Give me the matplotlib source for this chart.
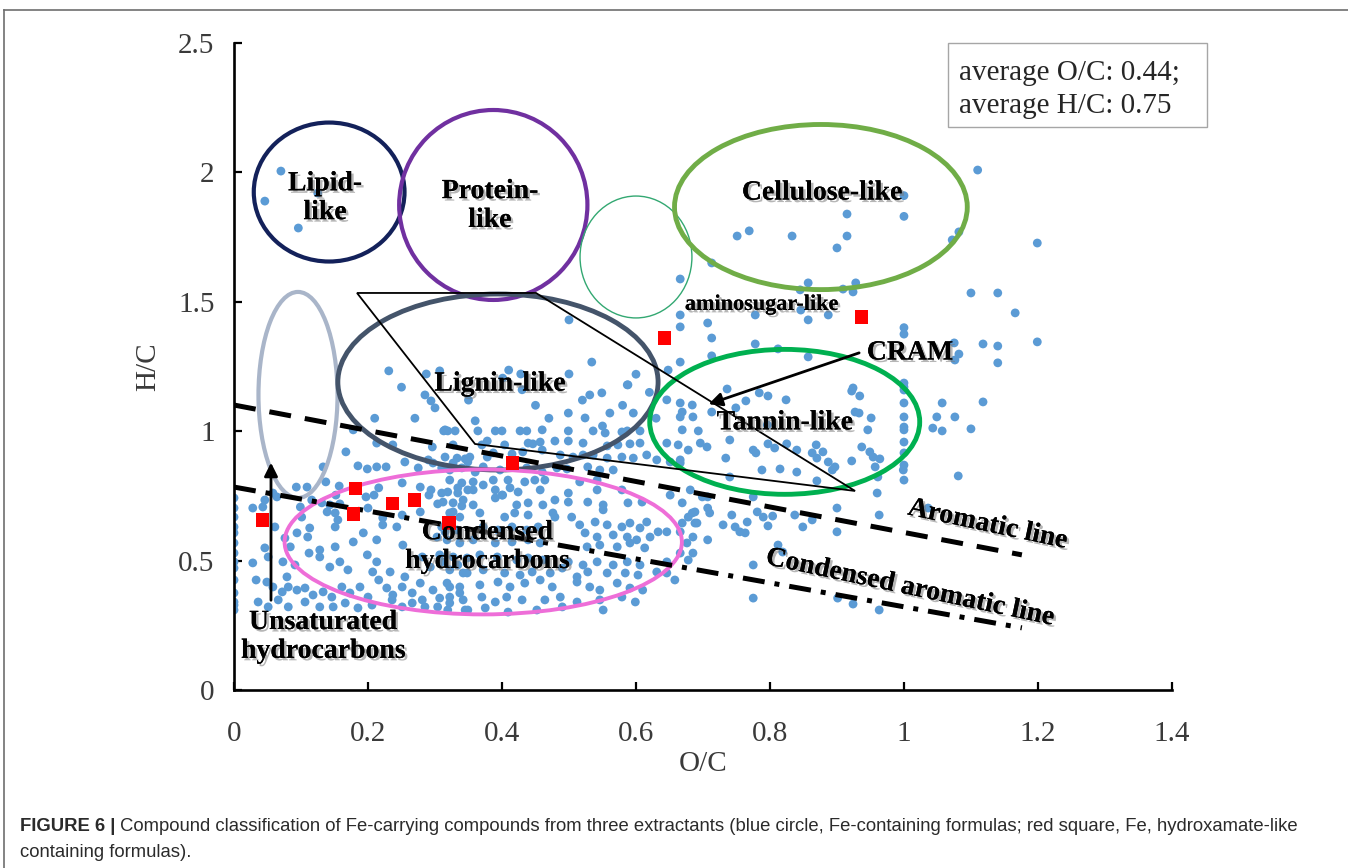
import matplotlib
matplotlib.use("Agg")
import matplotlib.pyplot as plt
import matplotlib.patheffects as pe
from matplotlib.patches import Ellipse, Polygon, Rectangle
from matplotlib.lines import Line2D

# ---------------- data: Fe-containing formulas (O/C, H/C) ----------------
lipid_pts = [(0.070, 2.005), (0.046, 1.889), (0.125, 1.920), (0.096, 1.785)]

upper_pts = [
    (0.231, 1.233), (0.287, 1.221), (0.307, 1.233), (0.410, 1.236), (0.428, 1.221), (0.401, 1.205),
    (0.713, 1.650), (0.666, 1.588), (0.666, 1.449), (0.666, 1.403), (0.707, 1.418), (0.713, 1.360),
    (0.713, 1.291), (0.666, 1.267), (0.648, 1.236), (0.500, 1.430), (0.534, 1.267), (0.500, 1.221),
    (0.587, 1.179),
    (0.915, 1.839), (0.751, 1.754), (0.769, 1.774), (0.833, 1.754), (0.915, 1.754), (0.900, 1.708),
    (0.857, 1.573), (0.928, 1.573), (0.909, 1.549), (0.845, 1.546), (0.924, 1.538), (0.778, 1.449),
    (0.846, 1.468), (0.857, 1.430), (0.887, 1.449), (0.778, 1.337), (0.812, 1.318), (0.857, 1.287),
    (0.924, 1.167),
]

right_pts = [
    (1.110, 2.009), (1.000, 1.910), (1.000, 1.830), (1.082, 1.770), (1.072, 1.739), (1.199, 1.727),
    (1.100, 1.534), (1.140, 1.534), (1.166, 1.457), (1.000, 1.400), (1.000, 1.375), (1.075, 1.341),
    (1.118, 1.337), (1.140, 1.329), (1.199, 1.345), (1.082, 1.298), (1.076, 1.275), (1.140, 1.264),
    (1.000, 1.186), (1.000, 1.171), (1.057, 1.109), (1.118, 1.113), (1.000, 1.055), (1.049, 1.055),
    (1.076, 1.055), (1.000, 1.016), (1.000, 1.005), (1.043, 1.012), (1.057, 1.001), (1.100, 1.009),
    (1.000, 0.958), (1.000, 0.916), (1.000, 0.869), (1.081, 0.827), (1.036, 0.703),
]

tannin_pts = [
    (0.736, 1.163), (0.784, 1.148), (0.797, 1.136), (0.824, 1.121), (0.922, 1.155), (0.934, 1.136),
    (1.000, 1.159), (0.684, 1.101), (0.669, 1.074), (0.713, 1.074), (0.749, 1.090), (0.764, 1.117),
    (0.927, 1.074), (0.933, 1.070), (0.951, 1.051), (1.000, 1.109), (0.685, 1.055), (0.669, 1.005),
    (0.693, 1.001), (0.740, 0.966), (0.796, 1.024), (0.797, 0.951), (0.825, 0.951), (0.840, 0.927),
    (0.869, 0.947), (0.879, 0.920), (0.946, 1.005), (0.696, 0.954), (0.706, 0.939), (0.734, 0.896),
    (0.775, 0.927), (0.779, 0.916), (0.807, 0.935), (0.863, 0.916), (0.870, 0.896), (0.887, 0.881),
    (0.897, 0.862), (0.893, 0.850), (0.922, 0.885), (0.937, 0.939), (0.949, 0.920), (0.954, 0.900),
    (0.964, 0.893), (0.957, 0.862), (0.961, 0.823), (0.999, 0.850), (1.000, 0.811), (0.666, 0.877),
    (0.788, 0.850), (0.815, 0.854), (0.840, 0.842), (0.870, 0.808), (0.740, 0.823),
    (0.646, 1.121), (0.666, 1.109), (0.666, 1.055), (0.646, 0.954), (0.663, 0.947), (0.678, 0.927),
]

aromatic_pts = [
    (0.681, 0.773), (0.669, 0.723), (0.699, 0.746), (0.707, 0.703), (0.707, 0.746), (0.688, 0.688),
    (0.710, 0.684), (0.678, 0.668), (0.743, 0.676), (0.730, 0.638), (0.748, 0.630), (0.755, 0.611),
    (0.763, 0.607), (0.766, 0.649), (0.775, 0.746), (0.781, 0.688), (0.797, 0.634), (0.790, 0.668),
    (0.804, 0.672), (0.837, 0.676), (0.849, 0.630), (0.863, 0.657), (0.900, 0.703), (0.900, 0.611),
    (0.963, 0.676), (0.960, 0.761), (0.669, 0.645), (0.688, 0.645), (0.707, 0.580), (0.685, 0.591),
    (0.685, 0.529), (0.678, 0.502), (0.812, 0.560), (0.819, 0.533), (0.775, 0.483), (0.775, 0.355),
    (0.901, 0.355), (0.924, 0.332), (0.963, 0.309),
    (0.684, 0.684), (0.691, 0.645), (0.666, 0.611), (0.676, 0.568), (0.666, 0.529), (0.646, 0.495),
    (0.646, 0.452), (0.658, 0.425),
]

lignin_pts = [
    (0.285, 1.140), (0.294, 1.117), (0.178, 1.005), (0.167, 0.920), (0.213, 0.954), (0.237, 0.947),
    (0.296, 0.939), (0.313, 1.001), (0.319, 1.001), (0.327, 0.947),
    (0.531, 1.140), (0.549, 1.148), (0.588, 1.179), (0.499, 1.070), (0.524, 1.051), (0.561, 1.070),
    (0.596, 1.070), (0.315, 1.005), (0.330, 1.001), (0.364, 1.001), (0.390, 1.001), (0.400, 1.001),
    (0.427, 1.001), (0.437, 1.001), (0.460, 1.005), (0.499, 1.001), (0.536, 1.001), (0.554, 0.993),
    (0.579, 0.997), (0.587, 1.001), (0.606, 1.001), (0.378, 0.962), (0.370, 0.947), (0.404, 0.947),
    (0.439, 0.954), (0.446, 0.951), (0.457, 0.958), (0.479, 0.962), (0.499, 0.962), (0.521, 0.954),
    (0.557, 0.943), (0.573, 0.947), (0.591, 0.951), (0.606, 0.954),
    (0.25, 1.17), (0.30, 1.09), (0.35, 1.12), (0.27, 1.05), (0.45, 1.10), (0.47, 1.05), (0.52, 1.12),
    (0.55, 1.02), (0.58, 1.10), (0.62, 1.15), (0.63, 1.05), (0.60, 1.22), (0.43, 1.16), (0.36, 1.04),
    (0.21, 1.05),
]

band_pts = [
    (0.133, 0.862), (0.185, 0.866), (0.199, 0.854), (0.213, 0.862), (0.227, 0.862), (0.255, 0.881),
    (0.275, 0.858), (0.290, 0.889), (0.297, 0.877), (0.312, 0.862), (0.327, 0.877), (0.349, 0.881),
    (0.093, 0.784), (0.109, 0.784), (0.137, 0.804), (0.157, 0.788), (0.152, 0.753), (0.197, 0.746),
    (0.209, 0.753), (0.216, 0.781), (0.251, 0.800), (0.278, 0.784), (0.294, 0.773), (0.291, 0.753),
    (0.310, 0.761), (0.334, 0.781), (0.349, 0.773),
    (0.315, 0.900), (0.333, 0.896), (0.345, 0.893), (0.352, 0.900), (0.378, 0.900), (0.387, 0.916),
    (0.415, 0.912), (0.431, 0.920), (0.460, 0.927), (0.487, 0.908), (0.506, 0.900), (0.521, 0.908),
    (0.536, 0.908), (0.557, 0.896), (0.579, 0.900), (0.596, 0.896), (0.616, 0.908), (0.631, 0.889),
    (0.651, 0.881), (0.666, 0.889), (0.310, 0.858), (0.322, 0.850), (0.340, 0.858), (0.360, 0.842),
    (0.372, 0.862), (0.397, 0.850), (0.437, 0.858), (0.460, 0.842), (0.482, 0.858), (0.497, 0.854),
    (0.528, 0.862), (0.546, 0.850), (0.566, 0.850), (0.322, 0.811), (0.340, 0.800), (0.357, 0.804),
    (0.372, 0.792), (0.387, 0.811), (0.409, 0.811), (0.434, 0.804), (0.449, 0.811), (0.464, 0.811),
    (0.516, 0.804), (0.542, 0.811), (0.319, 0.765), (0.334, 0.761), (0.357, 0.773), (0.390, 0.773),
    (0.401, 0.753), (0.412, 0.781), (0.424, 0.765), (0.457, 0.773), (0.499, 0.761), (0.542, 0.773),
    (0.579, 0.773), (0.651, 0.753),
]

edge_pts = [
    (0.000, 0.742), (0.000, 0.703), (0.000, 0.668), (0.000, 0.630), (0.000, 0.607), (0.000, 0.568),
    (0.000, 0.529), (0.000, 0.495), (0.000, 0.471), (0.000, 0.425), (0.000, 0.375), (0.000, 0.340),
    (0.000, 0.328), (0.000, 0.309),
    (0.028, 0.703), (0.043, 0.707), (0.064, 0.746), (0.099, 0.707), (0.116, 0.734), (0.131, 0.723),
    (0.139, 0.688), (0.151, 0.684), (0.158, 0.719), (0.200, 0.703), (0.222, 0.665), (0.251, 0.676),
    (0.278, 0.688), (0.304, 0.719), (0.327, 0.688), (0.340, 0.711),
    (0.058, 0.761), (0.046, 0.734), (0.143, 0.715), (0.155, 0.657), (0.101, 0.668), (0.113, 0.626),
]

cond_left_pts = [
    (0.061, 0.630), (0.076, 0.587), (0.084, 0.553), (0.094, 0.607), (0.110, 0.591), (0.128, 0.541),
    (0.151, 0.630), (0.151, 0.553), (0.178, 0.572), (0.193, 0.607), (0.213, 0.580), (0.222, 0.638),
    (0.243, 0.630), (0.252, 0.560), (0.303, 0.591), (0.315, 0.611),
    (0.028, 0.491), (0.046, 0.549), (0.051, 0.514), (0.073, 0.495), (0.079, 0.437), (0.091, 0.483),
    (0.112, 0.529), (0.128, 0.514), (0.143, 0.475), (0.158, 0.495), (0.170, 0.464), (0.199, 0.522),
    (0.207, 0.456), (0.213, 0.495), (0.233, 0.456), (0.255, 0.437), (0.281, 0.514), (0.293, 0.475),
    (0.310, 0.495), (0.334, 0.483), (0.342, 0.452),
    (0.033, 0.425), (0.049, 0.417), (0.058, 0.398), (0.072, 0.379), (0.081, 0.398), (0.094, 0.386),
    (0.106, 0.394), (0.118, 0.367), (0.133, 0.379), (0.146, 0.359), (0.161, 0.398), (0.173, 0.375),
    (0.188, 0.398), (0.200, 0.359), (0.216, 0.425), (0.228, 0.394), (0.237, 0.367), (0.251, 0.398),
    (0.266, 0.375), (0.278, 0.413), (0.281, 0.348), (0.297, 0.386), (0.307, 0.355), (0.322, 0.398),
    (0.337, 0.375),
    (0.036, 0.340), (0.051, 0.321), (0.066, 0.348), (0.081, 0.321), (0.106, 0.340), (0.128, 0.321),
    (0.148, 0.321), (0.166, 0.336), (0.185, 0.317), (0.206, 0.328), (0.236, 0.348), (0.251, 0.321),
    (0.266, 0.336), (0.285, 0.321), (0.304, 0.321), (0.322, 0.336), (0.345, 0.309),
]

cond_right_pts = [
    (0.312, 0.726), (0.327, 0.723), (0.342, 0.734), (0.357, 0.715), (0.390, 0.742), (0.400, 0.753),
    (0.422, 0.715), (0.439, 0.723), (0.461, 0.715), (0.479, 0.734), (0.499, 0.726), (0.528, 0.726),
    (0.551, 0.715), (0.588, 0.723), (0.609, 0.726),
    (0.322, 0.684), (0.337, 0.668), (0.367, 0.684), (0.404, 0.668), (0.419, 0.684), (0.439, 0.676),
    (0.476, 0.684), (0.479, 0.668), (0.504, 0.668), (0.516, 0.638), (0.539, 0.649), (0.551, 0.696),
    (0.557, 0.638), (0.579, 0.630), (0.591, 0.645), (0.606, 0.626), (0.616, 0.649), (0.633, 0.611),
    (0.646, 0.611),
    (0.310, 0.630), (0.333, 0.618), (0.372, 0.630), (0.394, 0.618), (0.415, 0.630), (0.437, 0.618),
    (0.454, 0.630), (0.524, 0.607), (0.542, 0.591), (0.566, 0.599), (0.587, 0.591), (0.601, 0.580),
    (0.621, 0.591),
    (0.318, 0.580), (0.337, 0.568), (0.357, 0.580), (0.390, 0.568), (0.415, 0.572), (0.439, 0.580),
    (0.457, 0.568), (0.527, 0.553), (0.546, 0.560), (0.572, 0.553), (0.591, 0.568), (0.613, 0.549),
    (0.307, 0.522), (0.327, 0.514), (0.348, 0.510), (0.367, 0.522), (0.393, 0.514), (0.422, 0.502),
    (0.439, 0.510), (0.461, 0.502), (0.499, 0.495), (0.521, 0.483), (0.542, 0.495), (0.566, 0.483),
    (0.587, 0.495), (0.606, 0.483),
    (0.322, 0.464), (0.348, 0.452), (0.372, 0.464), (0.404, 0.452), (0.427, 0.444), (0.445, 0.456),
    (0.472, 0.452), (0.490, 0.471), (0.512, 0.437), (0.528, 0.456), (0.557, 0.452), (0.584, 0.452),
    (0.603, 0.444), (0.631, 0.456),
    (0.318, 0.413), (0.337, 0.398), (0.367, 0.406), (0.394, 0.417), (0.412, 0.398), (0.434, 0.413),
    (0.457, 0.425), (0.475, 0.398), (0.512, 0.417), (0.531, 0.398), (0.546, 0.386), (0.572, 0.413),
    (0.591, 0.394), (0.610, 0.386),
    (0.322, 0.359), (0.342, 0.348), (0.370, 0.359), (0.390, 0.340), (0.407, 0.359), (0.430, 0.348),
    (0.464, 0.348), (0.487, 0.359), (0.512, 0.340), (0.546, 0.348), (0.579, 0.359), (0.599, 0.340),
    (0.319, 0.309), (0.349, 0.309), (0.375, 0.317), (0.409, 0.301), (0.452, 0.309), (0.490, 0.321),
    (0.551, 0.309),
]

# ---------------- data: Fe, hydroxamate-like containing formulas ----------------
hx_oc = [0.042, 0.181, 0.178, 0.237, 0.269, 0.321, 0.416, 0.643, 0.936]
hx_hc = [0.657, 0.777, 0.680, 0.719, 0.734, 0.645, 0.877, 1.360, 1.441]

avg_oc = 0.44
avg_hc = 0.75

x_ticks = [0, 0.2, 0.4, 0.6, 0.8, 1.0, 1.2, 1.4]
x_tick_labels = ["0", "0.2", "0.4", "0.6", "0.8", "1", "1.2", "1.4"]
y_ticks = [0, 0.5, 1.0, 1.5, 2.0, 2.5]
y_tick_labels = ["0", "0.5", "1", "1.5", "2", "2.5"]

fe_pts = (lipid_pts + upper_pts + right_pts + tannin_pts + aromatic_pts + lignin_pts
          + band_pts + edge_pts + cond_left_pts + cond_right_pts)
fe_oc = [p[0] for p in fe_pts]
fe_hc = [p[1] for p in fe_pts]

# ---------------- figure ----------------
SERIF = ["Liberation Serif", "DejaVu Serif"]
fig = plt.figure(figsize=(13.48, 8.68), dpi=100)
ax = fig.add_axes([0.1736, 0.2051, 0.6958, 0.7454])
ax.set_xlim(0, 1.4)
ax.set_ylim(0, 2.5)

for side in ("top", "right"):
    ax.spines[side].set_visible(False)
for side in ("left", "bottom"):
    ax.spines[side].set_linewidth(1.9)
    ax.spines[side].set_color("black")

ax.set_xticks(x_ticks)
ax.set_xticklabels(x_tick_labels)
ax.set_yticks(y_ticks)
ax.set_yticklabels(y_tick_labels)
ax.tick_params(direction="in", length=6, width=1.6, labelsize=21, labelcolor="#3a3a3a")
ax.tick_params(axis="x", pad=22)
ax.tick_params(axis="y", pad=14)
for lab in ax.get_xticklabels() + ax.get_yticklabels():
    lab.set_family(SERIF)
ax.set_xlabel("O/C", fontsize=21, family=SERIF, color="#3a3a3a", labelpad=3)
ax.set_ylabel("H/C", fontsize=21, family=SERIF, color="#3a3a3a", labelpad=12)

# data points
ax.scatter(fe_oc, fe_hc, s=40, c="#5b9bd5", edgecolors="none", zorder=2)

# compound class regions
regions = [
    # (center, width, height, colour, linewidth)
    ((0.142, 1.924), 0.225, 0.537, "#13215a", 3.0),
    ((0.387, 1.874), 0.281, 0.734, "#7030a0", 3.0),
    ((0.600, 1.673), 0.167, 0.471, "#33a872", 1.0),
    ((0.876, 1.866), 0.437, 0.638, "#70ad47", 3.5),
    ((0.0955, 1.140), 0.118, 0.796, "#a9b5c9", 3.0),
    ((0.394, 1.190), 0.478, 0.680, "#44546a", 3.5),
    ((0.822, 1.036), 0.403, 0.560, "#00b050", 3.5),
    ((0.372, 0.572), 0.593, 0.560, "#ee6ed8", 2.8),
]
for (c, w, h, col, lw) in regions:
    ax.add_patch(Ellipse(c, w, h, fill=False, edgecolor=col, linewidth=lw, zorder=3))

# CRAM polygon
cram = Polygon([(0.1836, 1.534), (0.4507, 1.534), (0.927, 0.769), (0.3597, 0.9505)],
               closed=True, fill=False, edgecolor="black", linewidth=1.3, zorder=3)
ax.add_patch(cram)

# aromaticity lines
ax.plot([0, 1.176], [1.101, 0.522], color="black", linewidth=3.6,
        linestyle=(0, (4.4, 2.8)), zorder=3, solid_capstyle="butt")
ax.plot([0, 1.176], [0.784, 0.240], color="black", linewidth=3.6,
        linestyle=(0, (4.4, 2.0, 1.0, 2.0)), zorder=3)

# Fe, hydroxamate-like formulas
ax.scatter(hx_oc, hx_hc, s=90, c="#ff0000", marker="s", edgecolors="none", zorder=4)

# arrows
ax.annotate("", xy=(0.7045, 1.101), xytext=(0.937, 1.306),
            arrowprops=dict(arrowstyle="-|>", color="black", lw=2, mutation_scale=20), zorder=5)
ax.annotate("", xy=(0.0552, 0.889), xytext=(0.0552, 0.336),
            arrowprops=dict(arrowstyle="-|>", color="black", lw=2, mutation_scale=20), zorder=5)

shadow = [pe.withSimplePatchShadow(offset=(1.8, -1.8), shadow_rgbFace="#7a7a7a", alpha=0.55),
          pe.Normal()]
label_kw = dict(family=SERIF, fontweight="bold", ha="center", va="center",
                zorder=6, path_effects=shadow, linespacing=1.2)
ax.text(0.136, 1.900, "Lipid-\nlike", fontsize=20, **label_kw)
ax.text(0.382, 1.870, "Protein-\nlike", fontsize=20, **label_kw)
ax.text(0.878, 1.920, "Cellulose-like", fontsize=20, **label_kw)
ax.text(0.788, 1.488, "aminosugar-like", fontsize=16, **label_kw)
ax.text(1.009, 1.302, "CRAM", fontsize=20, **label_kw)
ax.text(0.397, 1.182, "Lignin-like", fontsize=20, **label_kw)
ax.text(0.822, 1.032, "Tannin-like", fontsize=20, **label_kw)
ax.text(0.378, 0.552, "Condensed\nhydrocarbons", fontsize=20, **label_kw)
ax.text(0.133, 0.205, "Unsaturated\nhydrocarbons", fontsize=20, **label_kw)
ax.text(1.125, 0.638, "Aromatic line", fontsize=20, rotation=-12, rotation_mode="anchor", **label_kw)
ax.text(1.009, 0.394, "Condensed aromatic line", fontsize=20, rotation=-12,
        rotation_mode="anchor", **label_kw)

# averages box
fig.patches.append(Rectangle((0.7033, 0.8537), 0.1921, 0.0968, transform=fig.transFigure,
                             fill=False, edgecolor="#a6a6a6", linewidth=1.0))
fig.text(0.7115, 0.9160, f"average O/C: {avg_oc:.2f};", fontsize=21, family=SERIF,
         color="#262626", va="center", ha="left")
fig.text(0.7115, 0.8780, f"average H/C: {avg_hc:.2f}", fontsize=21, family=SERIF,
         color="#262626", va="center", ha="left")

# frame lines
fig.add_artist(Line2D([0.003, 1.0], [0.9885, 0.9885], transform=fig.transFigure,
                      color="#6e6e6e", linewidth=1.2))
fig.add_artist(Line2D([0.003, 0.003], [0.0, 0.9885], transform=fig.transFigure,
                      color="#6e6e6e", linewidth=1.2))

# caption
SANS = ["Liberation Sans", "DejaVu Sans"]
cap_size = 13.3
t_bold = fig.text(0.0148, 0.0475, "FIGURE 6 |", fontsize=cap_size, family=SANS,
                  fontweight="bold", color="#2b2b2b", va="center", ha="left")
fig.canvas.draw()
bb = t_bold.get_window_extent(renderer=fig.canvas.get_renderer())
x_next = (bb.x1 + 5) / fig.bbox.width
fig.text(x_next, 0.0475,
         "Compound classification of Fe-carrying compounds from three extractants (blue circle, "
         "Fe-containing formulas; red square, Fe, hydroxamate-like",
         fontsize=cap_size, family=SANS, color="#2b2b2b", va="center", ha="left")
fig.text(0.0148, 0.0180, "containing formulas).", fontsize=cap_size, family=SANS,
         color="#2b2b2b", va="center", ha="left")

fig.savefig("out.png", dpi=100)
